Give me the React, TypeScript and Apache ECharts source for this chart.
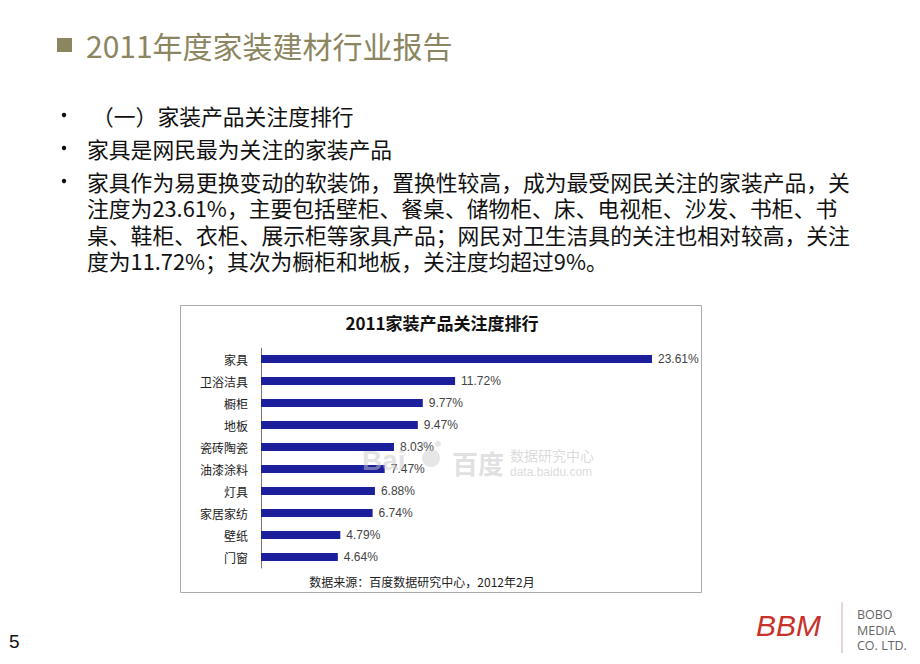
import React, { useEffect, useRef } from "react";
import * as echarts from "echarts";

const categories = ["家具", "卫浴洁具", "橱柜", "地板", "瓷砖陶瓷", "油漆涂料", "灯具", "家居家纺", "壁纸", "门窗"];
const values = [23.61, 11.72, 9.77, 9.47, 8.03, 7.47, 6.88, 6.74, 4.79, 4.64];

const slideTitle = "2011年度家装建材行业报告";
const chartTitle = "2011家装产品关注度排行";
const sourceNote = "数据来源：百度数据研究中心，2012年2月";
const bulletHeads = ["（一）家装产品关注度排行", "家具是网民最为关注的家装产品"];
const paragraphLines = [
  "家具作为易更换变动的软装饰，置换性较高，成为最受网民关注的家装产品，关",
  "注度为23.61%，主要包括壁柜、餐桌、储物柜、床、电视柜、沙发、书柜、书",
  "桌、鞋柜、衣柜、展示柜等家具产品；网民对卫生洁具的关注也相对较高，关注",
  "度为11.72%；其次为橱柜和地板，关注度均超过9%。",
];
const logoLines = ["BOBO", "MEDIA", "CO. LTD."];

const CJK = '"Noto Sans CJK SC", "Noto Sans", sans-serif';
const LAT = '"Liberation Sans", Arial, sans-serif';
const OPEN = '"Open Sans", "Noto Sans", sans-serif';

export default function App() {
  const ref = useRef<HTMLDivElement>(null);
  useEffect(() => {
    if (!ref.current) return;
    const chart = echarts.init(ref.current, undefined, { renderer: "svg" });

    const headX = [92, 87];
    const headY = [115, 148];
    const bulletsY = [115, 148, 181];

    const textEls: any[] = [];
    bulletHeads.forEach((t, i) => {
      textEls.push({
        type: "text",
        x: headX[i],
        y: headY[i],
        style: { text: t, fontSize: 21.8, lineHeight: 25, fontFamily: CJK, fill: "#111", verticalAlign: "middle" },
      });
    });
    textEls.push({
      type: "text",
      x: 87,
      y: 181 - 13.25,
      style: {
        text: paragraphLines.join("\n"),
        fontSize: 21.8,
        lineHeight: 26.5,
        fontFamily: CJK,
        fill: "#111",
        verticalAlign: "top",
      },
    });
    bulletsY.forEach((y) => {
      textEls.push({ type: "circle", shape: { cx: 64, cy: y, r: 2.2 }, style: { fill: "#111" } });
    });
    textEls.push({
      type: "text",
      x: 857,
      y: 607,
      style: { text: logoLines.join("\n"), fontSize: 12.5, lineHeight: 15.5, fontFamily: OPEN, fill: "#666", verticalAlign: "top" },
    });

    const option: any = {
      animation: false,
      backgroundColor: "#ffffff",
      grid: { left: 261, top: 348, width: 414, height: 220, containLabel: false },
      xAxis: { type: "value", min: 0, max: 25, show: false },
      yAxis: {
        type: "category",
        data: categories,
        inverse: true,
        axisLine: { show: true, lineStyle: { color: "#777", width: 1 } },
        axisTick: { show: false },
        axisLabel: { margin: 13, fontSize: 12, color: "#222", fontFamily: CJK },
      },
      series: [
        {
          type: "bar",
          data: values,
          barWidth: 8,
          itemStyle: { color: "#1c1f9c" },
          label: {
            show: true,
            position: "right",
            distance: 6,
            fontSize: 12,
            fontFamily: LAT,
            color: "#444",
            formatter: (p: any) => Number(p.value).toFixed(2) + "%",
          },
        },
      ],
      graphic: [
        // slide title
        { type: "rect", shape: { x: 57, y: 38, width: 15, height: 14 }, style: { fill: "#8b8660" } },
        {
          type: "text",
          x: 86,
          y: 45,
          style: { text: slideTitle, fontSize: 30, fontFamily: CJK, fill: "#8b8660", verticalAlign: "middle" },
        },
        ...textEls,
        // chart frame
        {
          type: "rect",
          shape: { x: 180.5, y: 305.5, width: 521, height: 287 },
          style: { fill: "none", stroke: "#aaaaaa", lineWidth: 1 },
          z: -1,
        },
        {
          type: "text",
          x: 442,
          y: 322,
          style: {
            text: chartTitle,
            fontSize: 17,
            fontWeight: "bold",
            fontFamily: CJK,
            fill: "#111",
            align: "center",
            verticalAlign: "middle",
          },
        },
        {
          type: "text",
          x: 422,
          y: 581,
          style: { text: sourceNote, fontSize: 12, fontFamily: CJK, fill: "#222", align: "center", verticalAlign: "middle" },
        },
        // watermark
        {
          type: "text",
          x: 362,
          y: 460,
          z: 100,
          style: { text: "Bai", fontSize: 28, lineHeight: 22, fontWeight: "bold", fontFamily: LAT, fill: "rgba(200,200,200,0.5)", verticalAlign: "middle" },
        },
        { type: "circle", z: 100, shape: { cx: 431, cy: 458, r: 9 }, style: { fill: "rgba(200,200,200,0.45)" } },
        { type: "circle", z: 100, shape: { cx: 424, cy: 444, r: 3 }, style: { fill: "rgba(200,200,200,0.45)" } },
        { type: "circle", z: 100, shape: { cx: 438, cy: 444, r: 3 }, style: { fill: "rgba(200,200,200,0.45)" } },
        {
          type: "text",
          x: 452,
          y: 462,
          z: 100,
          style: { text: "百度", fontSize: 26, lineHeight: 26, fontWeight: "bold", fontFamily: CJK, fill: "rgba(200,200,200,0.55)", verticalAlign: "middle" },
        },
        {
          type: "text",
          x: 510,
          y: 455,
          z: 100,
          style: { text: "数据研究中心", fontSize: 14, lineHeight: 14, fontFamily: CJK, fill: "rgba(195,195,195,0.6)", verticalAlign: "middle" },
        },
        {
          type: "text",
          x: 510,
          y: 472,
          z: 100,
          style: { text: "data.baidu.com", fontSize: 12, lineHeight: 12, fontFamily: LAT, fill: "rgba(195,195,195,0.6)", verticalAlign: "middle" },
        },
        // page number
        {
          type: "text",
          x: 9,
          y: 641,
          style: { text: "5", fontSize: 19, fontFamily: LAT, fill: "#111", verticalAlign: "middle" },
        },
        // logo
        {
          type: "text",
          x: 756,
          y: 625,
          style: { text: "BBM", fontSize: 30, fontStyle: "italic", fontFamily: LAT, fill: "#c8322a", verticalAlign: "middle" },
        },
        { type: "line", shape: { x1: 842, y1: 602, x2: 842, y2: 653 }, style: { stroke: "#dcc8c8", lineWidth: 1.5 } },
      ],
    };
    chart.setOption(option);
    return () => chart.dispose();
  }, []);
  return (
    <div
      ref={ref}
      style={{ position: "fixed", left: 0, top: 0, width: 920, height: 664, background: "#fff" }}
    />
  );
}
